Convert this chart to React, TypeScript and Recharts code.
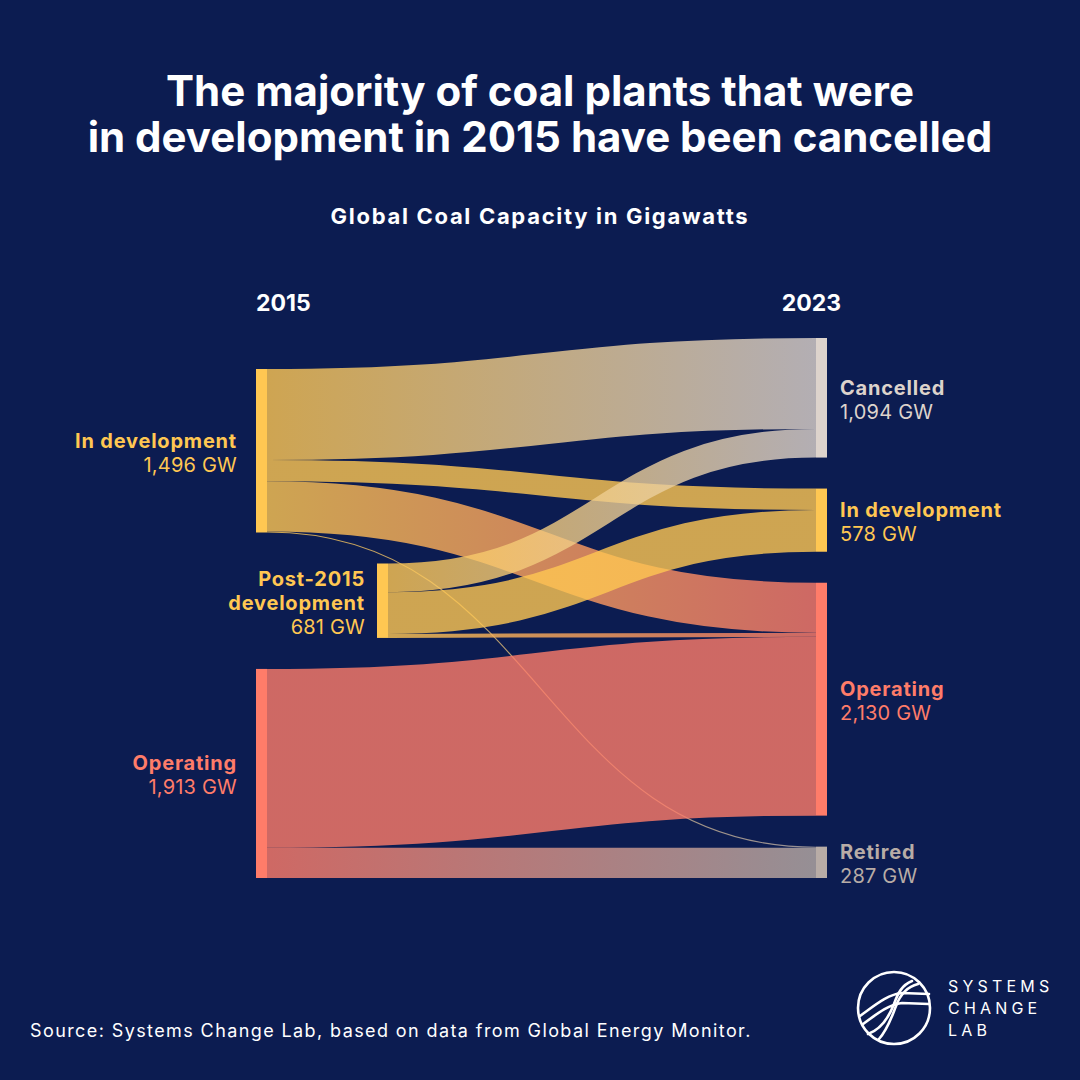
import { Sankey } from 'recharts';

const BG = '#0c1c51';
const FONT = 'Inter, "Noto Sans", sans-serif';

// Coal capacity status in 2015 (left column) and 2023 (right column)
const nodeNames = [
  'In development',
  'Post-2015\ndevelopment',
  'Operating',
  'Cancelled',
  'In development',
  'Operating',
  'Retired',
];
const nodeKinds = ['dev', 'dev', 'operating', 'cancelled', 'dev', 'operating', 'retired'];
const nodeTotalsGW = [1496, 681, 1913, 1094, 578, 2130, 287];
// capacity that only entered the pipeline after 2015
const nodeAddedAfter2015 = [false, true, false, false, false, false, false];

// flows between the two years, GW
const flowFrom = [0, 0, 0, 0, 1, 1, 1, 2, 2];
const flowTo = [3, 4, 5, 6, 3, 4, 5, 5, 6];
const flowGW = [832, 196, 458, 10, 262, 382, 37, 1636, 277];

const kindColor: Record<string, string> = {
  dev: '#ffc752',
  operating: '#ff7c69',
  cancelled: '#ddd3cc',
  retired: '#b8aca6',
};

// late-entry nodes sit a little to the right of the 2015 column
const LATE_INDENT = 121;

const sankeyData = {
  nodes: nodeNames.map((name, i) => ({
    name,
    kind: nodeKinds[i],
    total: nodeTotalsGW[i],
    late: nodeAddedAfter2015[i],
  })),
  links: flowGW.map((value, i) => ({ source: flowFrom[i], target: flowTo[i], value })),
};

function FlowNode({ x, y, width, height, payload }: any) {
  const color = kindColor[payload.kind];
  const lines: string[] = payload.name.split('\n');
  const onLeft = payload.depth === 0;
  const nx = payload.late ? x + LATE_INDENT : x;
  const lineH = 24;
  const n = lines.length + 1;
  const firstBase = y + height / 2 - ((n - 1) * lineH + 14) / 2 + 16;
  const tx = onLeft ? nx - (payload.late ? 12 : 19) : nx + width + 13;
  return (
    <g>
      <rect x={nx} y={y} width={width} height={height} fill={color} />
      <text textAnchor={onLeft ? 'end' : 'start'} fill={color} fontFamily={FONT} fontSize={20}>
        {lines.map((line, i) => (
          <tspan key={i} x={tx} y={firstBase + i * lineH} fontWeight={700} letterSpacing={0.8}>
            {line}
          </tspan>
        ))}
        <tspan x={tx} y={firstBase + lines.length * lineH} fontWeight={400} letterSpacing={0.2}>
          {payload.total.toLocaleString('en-US')} GW
        </tspan>
      </text>
    </g>
  );
}

function FlowLink(props: any) {
  const { targetX, sourceY, targetY, linkWidth, index, payload } = props;
  const sourceX = props.sourceX + (payload.source.late ? LATE_INDENT : 0);
  const midX = (sourceX + targetX) / 2;
  const id = `flow-grad-${index}`;
  return (
    <g>
      <defs>
        <linearGradient id={id} gradientUnits="userSpaceOnUse" x1={sourceX} y1={0} x2={targetX} y2={0}>
          <stop offset="0%" stopColor={kindColor[payload.source.kind]} />
          <stop offset="100%" stopColor={kindColor[payload.target.kind]} />
        </linearGradient>
      </defs>
      <path
        d={`M${sourceX},${sourceY}C${midX},${sourceY} ${midX},${targetY} ${targetX},${targetY}`}
        fill="none"
        stroke={`url(#${id})`}
        strokeWidth={Math.max(linkWidth, 1)}
        strokeOpacity={0.8}
      />
    </g>
  );
}

function Logo() {
  return (
    <g>
      <g stroke="#fff" fill="none" strokeWidth={2.6} strokeLinecap="round">
        <circle cx={894} cy={1008} r={36} />
        <path d="M860 1016 C874 1006 888 994 902 993 L929 994" />
        <path d="M863 1024 C878 1013 890 1004 902 1003 L929 1004" />
        <path d="M912 981 C902 985 898 993 894 1004 C889 1017 882 1029 868 1034" />
        <path d="M879 1039 C888 1029 892 1016 896 1006 C900 995 906 987 918 984" />
      </g>
      <g fill="#fff" fontFamily={FONT} fontSize={16} letterSpacing={4.2}>
        <text x={948} y={992}>SYSTEMS</text>
        <text x={948} y={1014}>CHANGE</text>
        <text x={948} y={1036}>LAB</text>
      </g>
    </g>
  );
}

export default function App() {
  return (
    <div style={{ position: 'absolute', left: 0, top: 0, width: 1080, height: 1080, background: BG }}>
      <Sankey
        width={1080}
        height={1080}
        data={sankeyData}
        margin={{ top: 338, left: 256, right: 253, bottom: 202 }}
        nodeWidth={11}
        nodePadding={31}
        node={(p: any) => <FlowNode {...p} />}
        link={(p: any) => <FlowLink {...p} />}
      />
      <svg
        width={1080}
        height={1080}
        style={{ position: 'absolute', left: 0, top: 0, pointerEvents: 'none' }}
      >
        <g fill="#fff" fontFamily={FONT} fontWeight={700}>
          <text x={540} y={106} textAnchor="middle" fontSize={42}>
            The majority of coal plants that were
          </text>
          <text x={540} y={152} textAnchor="middle" fontSize={42}>
            in development in 2015 have been cancelled
          </text>
          <text x={540} y={224} textAnchor="middle" fontSize={22} letterSpacing={1.7}>
            Global Coal Capacity in Gigawatts
          </text>
          <text x={256} y={311} fontSize={23}>
            2015
          </text>
          <text x={841} y={311} textAnchor="end" fontSize={23}>
            2023
          </text>
        </g>
        <text x={30} y={1037} fill="#fff" fontFamily={FONT} fontSize={18} letterSpacing={1.4}>
          Source: Systems Change Lab, based on data from Global Energy Monitor.
        </text>
        <Logo />
      </svg>
    </div>
  );
}
